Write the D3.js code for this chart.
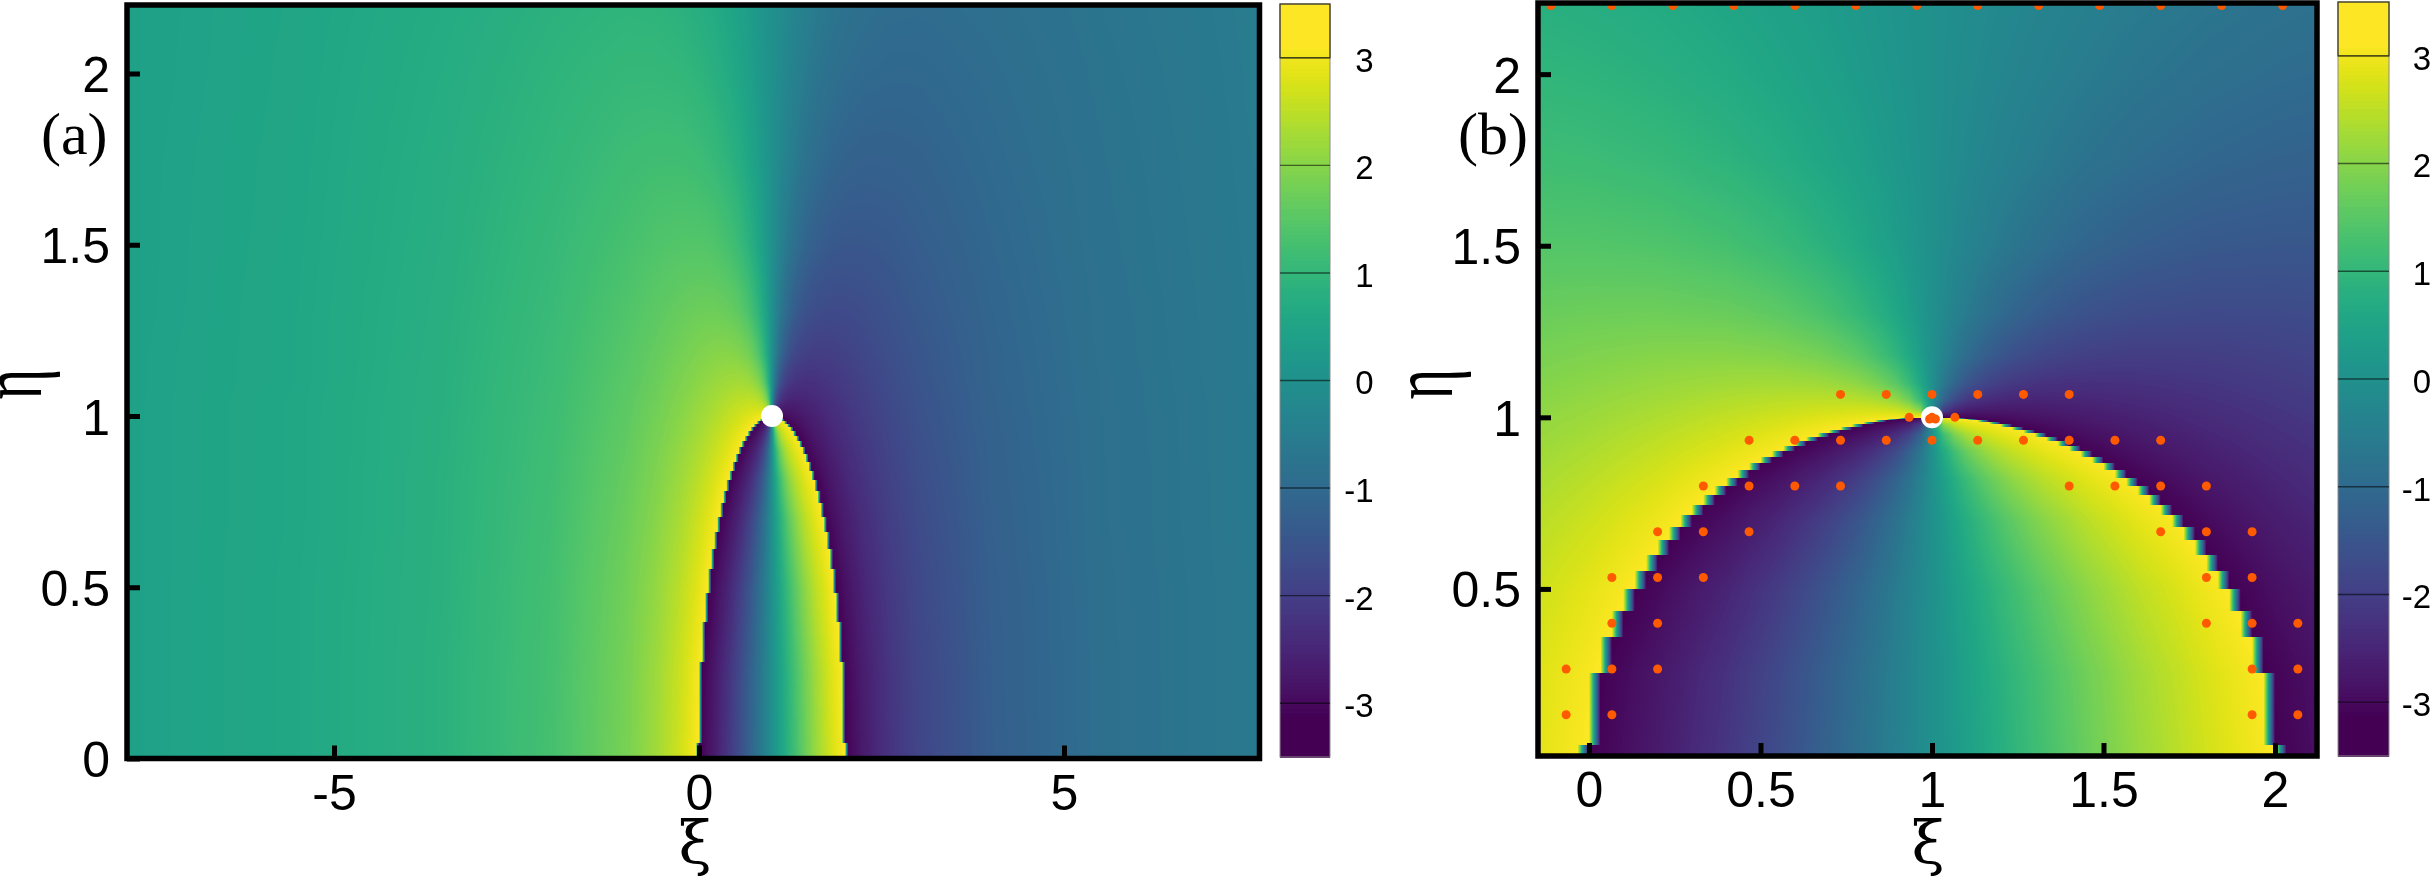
<!DOCTYPE html>
<html>
<head>
<meta charset="utf-8">
<script src="https://cdn.jsdelivr.net/npm/d3@7"></script>
<style>
html,body{margin:0;padding:0;background:#fff;}
#wrap{position:relative;width:2436px;height:886px;overflow:hidden;}
canvas,svg{position:absolute;left:0;top:0;}
</style>
</head>
<body>
<div id="wrap"><canvas id="field" width="2436" height="886"></canvas><svg id="chart" width="2436" height="886"></svg></div>
<script>
// ---- values ----
// unwrapped phase left of the line xi = 1, sampled at distance |xi-1| (columns) and eta (rows);
// the right side of the picture shows the same values with opposite sign
const distanceNodes = [0,.03,.06,.1,.15,.22,.32,.45,.6,.8,1,1.25,1.6,2,3,4.5,6.5,9];
const etaNodes = [0,.25,.5,.7,.82,.9,.95,.98,1,1.02,1.05,1.1,1.18,1.3,1.5,1.75,2,2.21];
const phaseRows = [
[6.28,6.16,6.04,5.88,5.69,5.42,5.04,4.59,4.12,3.58,3.14,2.70,2.23,1.85,1.29,.87,.61,.44],
[6.28,6.16,6.03,5.86,5.65,5.36,4.98,4.51,4.04,3.51,3.08,2.65,2.20,1.83,1.28,.87,.61,.44],
[6.28,6.12,5.96,5.76,5.50,5.16,4.72,4.23,3.77,3.28,2.89,2.51,2.11,1.78,1.26,.86,.61,.44],
[6.28,6.05,5.82,5.52,5.18,4.76,4.28,3.80,3.39,2.98,2.66,2.34,2.00,1.71,1.23,.85,.60,.44],
[6.28,5.92,5.57,5.16,4.73,4.27,3.82,3.42,3.09,2.76,2.49,2.22,1.92,1.66,1.21,.85,.60,.44],
[6.28,5.67,5.14,4.61,4.16,3.76,3.41,3.11,2.86,2.59,2.37,2.14,1.87,1.62,1.20,.84,.60,.44],
[6.28,5.17,4.47,3.97,3.63,3.36,3.13,2.91,2.71,2.49,2.29,2.08,1.83,1.60,1.19,.84,.60,.44],
[6.28,4.29,3.72,3.44,3.26,3.10,2.95,2.78,2.62,2.42,2.25,2.05,1.81,1.58,1.18,.84,.60,.44],
[3.14,3.11,3.08,3.04,2.99,2.92,2.82,2.70,2.56,2.38,2.21,2.02,1.79,1.57,1.18,.84,.60,.44],
[0,1.94,2.44,2.65,2.73,2.74,2.70,2.61,2.50,2.34,2.18,2.00,1.78,1.56,1.17,.83,.60,.44],
[0,1.05,1.69,2.12,2.35,2.48,2.52,2.49,2.41,2.27,2.13,1.97,1.75,1.55,1.17,.83,.60,.44],
[0,.55,1.02,1.48,1.82,2.08,2.23,2.28,2.25,2.16,2.05,1.91,1.71,1.52,1.15,.83,.59,.44],
[0,.30,.59,.92,1.25,1.57,1.83,1.97,2.02,2.00,1.93,1.81,1.65,1.48,1.14,.82,.59,.44],
[0,.17,.34,.56,.80,1.07,1.36,1.58,1.70,1.75,1.74,1.68,1.56,1.41,1.11,.81,.59,.43],
[0,.10,.19,.31,.46,.65,.88,1.11,1.28,1.41,1.45,1.45,1.40,1.30,1.06,.79,.58,.43],
[0,.06,.12,.19,.29,.41,.57,.76,.92,1.07,1.16,1.21,1.21,1.17,.99,.77,.57,.43],
[0,.04,.08,.13,.20,.29,.41,.55,.69,.83,.93,1.00,1.04,1.04,.93,.74,.56,.42],
[0,.03,.06,.10,.15,.22,.32,.43,.55,.68,.78,.86,.92,.94,.87,.71,.55,.42]
];
// height of the jump line, every 1/30 in |xi-1|
const arcEta = [1,.999,.998,.995,.991,.986,.980,.972,.964,.954,.943,.930,.917,.901,.884,.866,.846,.824,.8,.774,.745,.714,.680,.642,.6,.553,.499,.436,.359,.256,.045];
const arcStep = 30;
// orange sample points, panel (b)
const dotXi = [
 .7333,.8667,1,1.1333,1.2667,1.4,
 .4667,.6,.7333,.8667,1,1.1333,1.2667,1.4,1.5333,1.6667,
 .3333,.4667,.6,.7333,1.4,1.5333,1.6667,1.8,
 .2,.3333,.4667,1.6667,1.8,1.9333,
 .0667,.2,.3333,1.8,1.9333,
 .0667,.2,1.8,1.9333,2.0667,
 -.0667,.0667,.2,1.9333,2.0667,
 -.0667,.0667,1.9333,2.0667,
 .9333,1.0667,.993,1,1.01,
 -.1111,.0667,.2444,.4222,.6,.7778,.9556,1.1333,1.3111,1.4889,1.6667,1.8444,2.0222];
const dotEta = [
 1.0667,1.0667,1.0667,1.0667,1.0667,1.0667,
 .9333,.9333,.9333,.9333,.9333,.9333,.9333,.9333,.9333,.9333,
 .8,.8,.8,.8,.8,.8,.8,.8,
 .6667,.6667,.6667,.6667,.6667,.6667,
 .5333,.5333,.5333,.5333,.5333,
 .4,.4,.4,.4,.4,
 .2667,.2667,.2667,.2667,.2667,
 .1333,.1333,.1333,.1333,
 1,1,.995,1,.995,
 2.2,2.2,2.2,2.2,2.2,2.2,2.2,2.2,2.2,2.2,2.2,2.2,2.2];
const singularPoint = [1,1];
const xiTicksA = [-5,0,5];
const etaTicksA = [0,.5,1,1.5,2];
const xiTicksB = [0,.5,1,1.5,2];
const etaTicksB = [.5,1,1.5,2];
const barTicks = [3,2,1,0,-1,-2,-3];
const barDomain = [-3.5,3.5];

// ---- layout ----
const panels = [
 {name:'(a)', nameX:41, frame:{l:127,r:1259.5,t:5,b:758.5},
  xd:[-7.836,7.678], yd:[0,2.2], xt:xiTicksA, yt:etaTicksA, step:1/24,
  bar:{l:1280,r:1330,t:4,b:757,tx:1373.5}, xiX:695, etaX:41, dots:false},
 {name:'(b)', nameX:1458, frame:{l:1538,r:2317,t:3,b:756},
  xd:[-.1487,2.1225], yd:[.0131,2.2073], xt:xiTicksB, yt:etaTicksB, step:1/30,
  bar:{l:2338,r:2389,t:2,b:756,tx:2431}, xiX:1928, etaX:1452, dots:true}
];

const color = d3.scaleSequential(d3.interpolateViridis).domain([-Math.PI,Math.PI]).clamp(true);
const LUTN = 2048;
const lut = d3.range(LUTN).map(i=>{const c=d3.rgb(color(-Math.PI+2*Math.PI*i/(LUTN-1)));return [c.r,c.g,c.b];});

function tableValue(d,eta){
  let i=Math.min(d3.bisectRight(distanceNodes,d)-1,distanceNodes.length-2);
  let j=Math.max(0,Math.min(d3.bisectRight(etaNodes,eta)-1,etaNodes.length-2));
  const s=(d-distanceNodes[i])/(distanceNodes[i+1]-distanceNodes[i]);
  const t=Math.max(0,Math.min(1,(eta-etaNodes[j])/(etaNodes[j+1]-etaNodes[j])));
  const a=phaseRows[j][i],b=phaseRows[j][i+1],c=phaseRows[j+1][i],e=phaseRows[j+1][i+1];
  return (a+(b-a)*s)*(1-t)+(c+(e-c)*s)*t;
}
function arcAt(d){
  if(d>1.0001) return -1;
  const u=Math.min(d*arcStep,arcStep-1e-9), i=Math.floor(u);
  return arcEta[i]+(arcEta[i+1]-arcEta[i])*(u-i);
}
function nodeValue(xi,eta){
  const d=Math.abs(xi-1), w=tableValue(d,eta);
  const inner=eta<arcAt(d);
  const v=inner?Math.max(w,Math.PI)-2*Math.PI:Math.min(w,Math.PI);
  return xi<=1?v:-v;
}

const ctx=document.getElementById('field').getContext('2d');
const svg=d3.select('#chart');
const serif="'Liberation Serif','Times New Roman',serif";
const sans="'Liberation Sans',Arial,Helvetica,sans-serif";

panels.forEach(p=>{
  const f=p.frame;
  const x=d3.scaleLinear().domain(p.xd).range([f.l,f.r]);
  const y=d3.scaleLinear().domain(p.yd).range([f.b,f.t]);
  // field
  const x0=Math.floor(f.l),x1=Math.ceil(f.r),y0=Math.floor(f.t),y1=Math.ceil(f.b);
  const img=ctx.createImageData(x1-x0,y1-y0);
  let o=0;
  for(let py=y0;py<y1;py++){
    const eta=y.invert(py+.5);
    let kPrev=null,v0=0,v1=0;
    for(let px=x0;px<x1;px++){
      const xi=x.invert(px+.5), u=xi/p.step, k=Math.floor(u);
      if(k!==kPrev){v0=nodeValue(k*p.step,eta);v1=nodeValue((k+1)*p.step,eta);kPrev=k;}
      const v=v0+(v1-v0)*(u-k);
      const idx=Math.max(0,Math.min(LUTN-1,Math.round((v+Math.PI)/(2*Math.PI)*(LUTN-1))));
      const c=lut[idx];
      img.data[o++]=c[0];img.data[o++]=c[1];img.data[o++]=c[2];img.data[o++]=255;
    }
  }
  ctx.putImageData(img,x0,y0);

  const g=svg.append('g');
  g.append('circle').attr('cx',x(singularPoint[0])).attr('cy',y(singularPoint[1])).attr('r',11).attr('fill','#fff');
  // sample dots
  if(p.dots){
    g.selectAll('circle.dot').data(dotXi.map((v,i)=>[v,dotEta[i]])).join('circle')
      .attr('class','dot').attr('cx',d=>x(d[0])).attr('cy',d=>y(d[1])).attr('r',4.5).attr('fill','#ff5a00');
  }
  // frame
  g.append('rect').attr('x',f.l).attr('y',f.t).attr('width',f.r-f.l).attr('height',f.b-f.t)
    .attr('fill','none').attr('stroke','#000').attr('stroke-width',5.5);
  // axes
  const gx=g.append('g').attr('transform',`translate(0,${f.b})`)
    .call(d3.axisBottom(x).tickValues(p.xt).tickSizeInner(-13).tickSizeOuter(0).tickPadding(15.5).tickFormat(String));
  const gy=g.append('g').attr('transform',`translate(${f.l},0)`)
    .call(d3.axisLeft(y).tickValues(p.yt).tickSizeInner(-13).tickSizeOuter(0).tickPadding(17).tickFormat(String));
  [gx,gy].forEach(a=>{
    a.select('.domain').remove();
    a.selectAll('line').attr('stroke','#000').attr('stroke-width',5);
    a.selectAll('text').attr('fill','#000').style('font-family',sans).style('font-size','50px');
  });
  gy.selectAll('text').attr('dy','.36em');
  // titles
  g.append('text').attr('x',p.xiX).attr('y',864).attr('text-anchor','middle')
    .style('font-family',"'DejaVu Serif',serif").style('font-size','60px').text('ξ');
  g.append('text').attr('transform',`translate(${p.etaX},384) rotate(-90) scale(.82,1.22)`).attr('text-anchor','middle')
    .style('font-family',serif).style('font-size','72px').text('η');
  g.append('text').attr('x',p.nameX).attr('y',154)
    .style('font-family',serif).style('font-size','60px').text(p.name);
  // colour bar
  const b=p.bar;
  const by=d3.scaleLinear().domain(barDomain).range([b.b,b.t]);
  const bands=d3.range(barDomain[0],barDomain[1],0.035);
  const gb=g.append('g');
  gb.selectAll('rect.band').data(bands).join('rect').attr('class','band')
    .attr('x',b.l).attr('width',b.r-b.l).attr('y',d=>by(d+0.035)).attr('height',d=>by(d)-by(d+0.035)+1.2)
    .attr('shape-rendering','crispEdges').attr('fill',d=>color(d+0.0175));
  gb.append('rect').attr('x',b.l).attr('y',b.t).attr('width',b.r-b.l).attr('height',b.b-b.t)
    .attr('fill','none').attr('stroke','#8a8a8a').attr('stroke-width',1);
  gb.selectAll('line.lev').data(barTicks).join('line').attr('class','lev')
    .attr('x1',b.l).attr('x2',b.r).attr('y1',d=>by(d)).attr('y2',d=>by(d))
    .attr('stroke','#000').attr('stroke-opacity',.55).attr('stroke-width',1.4);
  gb.append('rect').attr('x',b.l).attr('y',b.t).attr('width',b.r-b.l).attr('height',by(3)-b.t)
    .attr('fill','none').attr('stroke','#3c3a1c').attr('stroke-width',1.2);
  gb.selectAll('text.lab').data(barTicks).join('text').attr('class','lab')
    .attr('x',b.tx).attr('y',d=>by(d)+2).attr('dy','.36em').attr('text-anchor','end')
    .style('font-family',sans).style('font-size','33px').attr('fill','#000').text(String);
});
</script>
</body>
</html>
